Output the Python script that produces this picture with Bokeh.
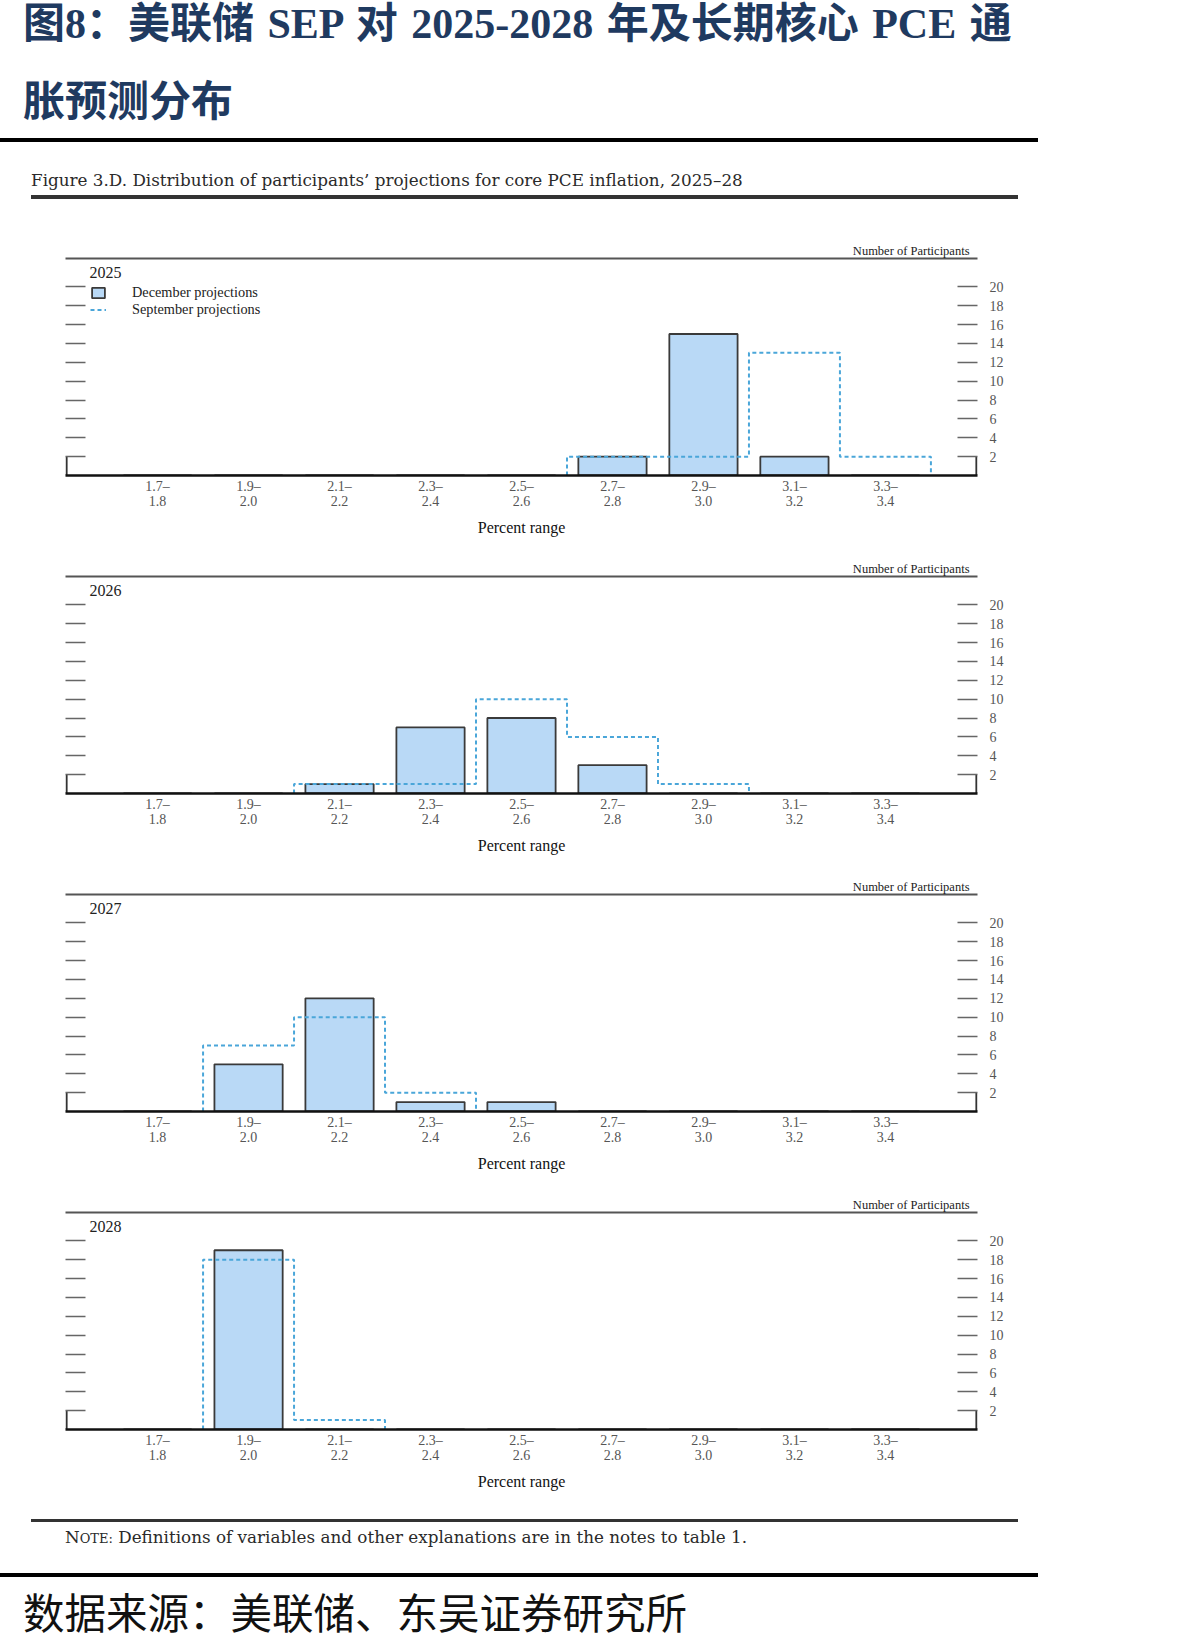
from bokeh.plotting import figure
from bokeh.layouts import column
from bokeh.models import Range1d, LinearAxis, FixedTicker, Label, Legend, LegendItem, Div
from bokeh.embed import file_html
from bokeh.resources import INLINE

# ---------------- data ----------------
categories = ["1.7–\n1.8", "1.9–\n2.0", "2.1–\n2.2", "2.3–\n2.4", "2.5–\n2.6",
              "2.7–\n2.8", "2.9–\n3.0", "3.1–\n3.2", "3.3–\n3.4"]
years = ["2025", "2026", "2027", "2028"]
december = {
    "2025": [0, 0, 0, 0, 0, 2, 15, 2, 0],
    "2026": [0, 0, 1, 7, 8, 3, 0, 0, 0],
    "2027": [0, 5, 12, 1, 1, 0, 0, 0, 0],
    "2028": [0, 19, 0, 0, 0, 0, 0, 0, 0],
}
september = {
    "2025": [0, 0, 0, 0, 0, 2, 2, 13, 2],
    "2026": [0, 0, 1, 1, 10, 6, 1, 0, 0],
    "2027": [0, 7, 10, 2, 0, 0, 0, 0, 0],
    "2028": [0, 18, 1, 0, 0, 0, 0, 0, 0],
}
y_ticks = [2, 4, 6, 8, 10, 12, 14, 16, 18, 20]
y_max = 23

title_line1 = "图8：美联储 SEP 对 2025-2028 年及长期核心 PCE 通"
title_line2 = "胀预测分布"
caption = "Figure 3.D. Distribution of participants’ projections for core PCE inflation, 2025–28"
note_head = "N"
note_head_small = "OTE:"
note_body = " Definitions of variables and other explanations are in the notes to table 1."
source = "数据来源：美联储、东吴证券研究所"

# ---------------- styles ----------------
W = 1192
SERIF = "Liberation Serif"
CM_FONT = "'DejaVu Serif', serif"
TITLE_FONT = "'Liberation Serif', 'Noto Sans CJK SC', serif"
CJK_FONT = "'Noto Sans CJK SC', sans-serif"
NAVY = "#1f3a60"
BAR_FILL = "#b9d9f6"
BAR_LINE = "#3a3a3a"
SEP_COLOR = "#4aa6d9"
TICK_COLOR = "#666666"


def txt(left, center_y, size, content, font, color, weight="normal", extra=""):
    return (f'<div style="position:absolute;left:{left}px;top:{center_y - size / 2}px;'
            f'font-family:{font};font-size:{size}px;font-weight:{weight};color:{color};'
            f'line-height:{size}px;white-space:nowrap;{extra}">{content}</div>')


def rule(left, width, center_y, thick, color):
    return (f'<div style="position:absolute;left:{left}px;top:{center_y - thick / 2}px;'
            f'width:{width}px;height:{thick}px;background:{color};"></div>')


# ---------------- header ----------------
hdr_html = (f'<div style="position:relative;width:{W}px;height:230px;margin:0;padding:0;">'
            + txt(23, 24, 42, title_line1, TITLE_FONT, NAVY, "bold", "word-spacing:3px;")
            + txt(23, 102, 42, title_line2, TITLE_FONT, NAVY, "bold")
            + rule(0, 1038, 140, 4, "#000000")
            + txt(31, 180, 16.8, caption, CM_FONT, "#2a2a2a")
            + rule(31, 987, 197, 3.5, "#333333")
            + '</div>')
hdr = Div(text=hdr_html, width=W, height=230, margin=(0, 0, 0, 0))


# ---------------- panels ----------------
def panel(year, show_legend):
    n = len(categories)
    xs = list(range(n))
    dec = december[year]
    sep = september[year]
    eps = 0.012
    p = figure(width=W, height=318, x_range=Range1d(-1 - eps, n + eps),
               y_range=Range1d(0, y_max),
               x_axis_location=None, y_axis_location=None,
               min_border_left=65, min_border_right=215, min_border_top=28,
               min_border_bottom=73, output_backend="svg", toolbar_location=None)
    p.grid.visible = False
    p.outline_line_color = None

    bars = p.vbar(x=xs, top=dec, width=0.75, fill_color=BAR_FILL,
                  line_color=BAR_LINE, line_width=1.8)

    nz = [i for i, v in enumerate(sep) if v > 0]
    a, b = nz[0], nz[-1]
    sx = [a - 0.5] + [i - 0.5 for i in range(a, b + 1)] + [b + 0.5]
    sy = [0] + sep[a:b + 1] + [0]
    step = p.step(x=sx, y=sy, mode="after", line_color=SEP_COLOR,
                  line_width=2, line_dash="4 3")

    # brackets at both ends of the baseline, up to the first tick
    p.segment(x0=[-1, n], y0=[0, 0], x1=[-1, n], y1=[y_ticks[0], y_ticks[0]],
              line_color="#333333", line_width=2)

    # bottom axis (baseline + category labels)
    xa = LinearAxis(ticker=FixedTicker(ticks=xs),
                    major_label_overrides={i: c for i, c in enumerate(categories)},
                    axis_label="Percent range")
    xa.axis_line_width = 2.5
    xa.axis_line_color = "#111111"
    xa.major_tick_line_color = None
    xa.minor_tick_line_color = None
    xa.major_label_standoff = -3
    xa.major_label_text_font = SERIF
    xa.major_label_text_font_size = "14px"
    xa.major_label_text_color = "#555555"
    xa.major_label_text_line_height = 1.0
    xa.axis_label_standoff = 7
    xa.axis_label_text_font = SERIF
    xa.axis_label_text_font_size = "16px"
    xa.axis_label_text_font_style = "normal"
    xa.axis_label_text_color = "#111111"
    p.add_layout(xa, "below")

    # top rule
    ta = LinearAxis(ticker=FixedTicker(ticks=[]))
    ta.axis_line_color = "#555555"
    ta.axis_line_width = 1.8
    ta.major_tick_line_color = None
    ta.minor_tick_line_color = None
    ta.major_label_text_font_size = "0px"
    ta.major_label_standoff = 0
    ta.axis_label_standoff = 0
    p.add_layout(ta, "above")

    # "Number of Participants" as the panel title, above the top rule
    p.title.text = "Number of Participants"
    p.title.align = "right"
    p.title.offset = 8
    p.title.standoff = 2
    p.title.text_font = SERIF
    p.title.text_font_size = "12.5px"
    p.title.text_font_style = "normal"
    p.title.text_color = "#222222"

    # left ticks (no labels)
    la = LinearAxis(ticker=FixedTicker(ticks=y_ticks))
    la.axis_line_color = None
    la.major_tick_in = 20
    la.major_tick_out = 0
    la.major_tick_line_color = TICK_COLOR
    la.major_tick_line_width = 1.6
    la.minor_tick_line_color = None
    la.major_label_text_color = None
    la.major_label_text_font_size = "1px"
    p.add_layout(la, "left")

    # right ticks with labels
    ra = LinearAxis(ticker=FixedTicker(ticks=y_ticks))
    ra.axis_line_color = None
    ra.major_tick_in = 20
    ra.major_tick_out = 0
    ra.major_tick_line_color = TICK_COLOR
    ra.major_tick_line_width = 1.6
    ra.minor_tick_line_color = None
    ra.major_label_standoff = 12
    ra.major_label_text_font = SERIF
    ra.major_label_text_font_size = "14px"
    ra.major_label_text_color = "#555555"
    p.add_layout(ra, "right")

    p.add_layout(Label(x=24, y=203, x_units="screen", y_units="screen", text=year,
                       text_font=SERIF, text_font_size="16px",
                       text_color="#222222", text_baseline="middle"))

    if show_legend:
        lg = Legend(items=[LegendItem(label="December projections", renderers=[bars]),
                           LegendItem(label="September projections", renderers=[step])],
                    location=(25, 157), orientation="vertical")
        lg.background_fill_alpha = 0
        lg.border_line_color = None
        lg.padding = 0
        lg.margin = 0
        lg.spacing = -7
        lg.glyph_width = 16
        lg.glyph_height = 13
        lg.label_height = 13
        lg.label_standoff = 26
        lg.label_text_font = SERIF
        lg.label_text_font_size = "14.3px"
        lg.label_text_color = "#222222"
        lg.label_text_line_height = 1.0
        p.add_layout(lg, "center")
    return p


panels = [panel(y, i == 0) for i, y in enumerate(years)]

# ---------------- footer ----------------
note_html = (f'{note_head}<span style="font-size:13px">{note_head_small}</span>{note_body}')
ftr_html = (f'<div style="position:relative;width:{W}px;height:147px;margin:0;padding:0;">'
            + rule(31, 987, 18, 3, "#333333")
            + txt(65, 35, 16.8, note_html, CM_FONT, "#2a2a2a")
            + rule(0, 1038, 73, 4.5, "#000000")
            + txt(23, 110, 41.5, source, CJK_FONT, "#111111")
            + '</div>')
ftr = Div(text=ftr_html, width=W, height=147, margin=(0, 0, 0, 0))

page = column(hdr, *panels, ftr, spacing=0)
open("out.html", "w").write(file_html(page, INLINE))
